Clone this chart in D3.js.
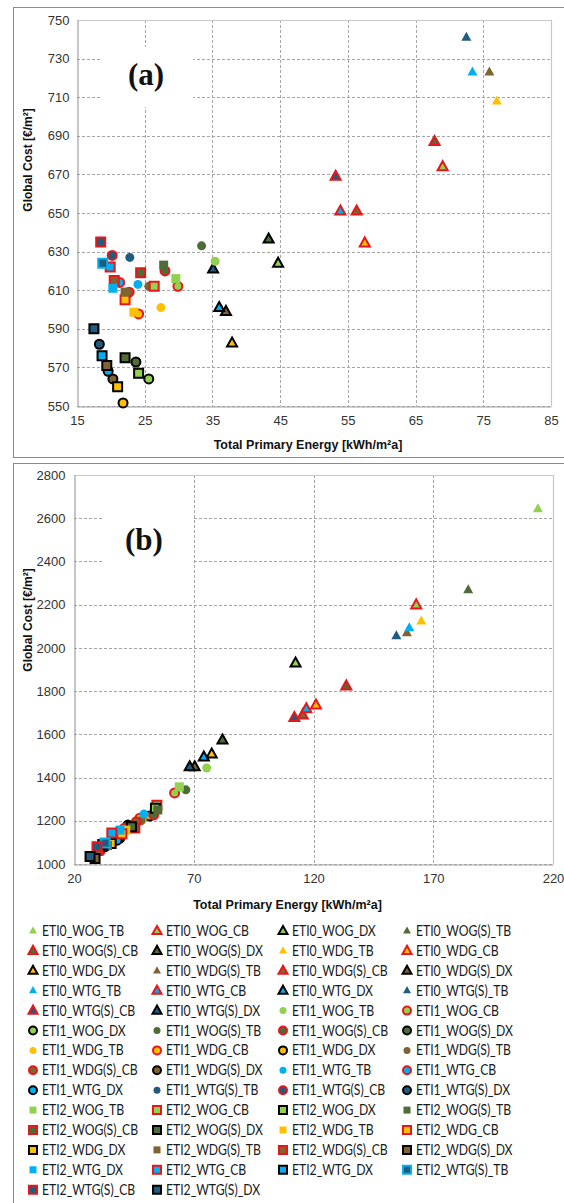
<!DOCTYPE html>
<html>
<head>
<meta charset="utf-8">
<script src="https://cdn.jsdelivr.net/npm/d3@7"></script>
<style>
  body { margin: 0; background: #fff; }
  svg { display: block; }
  .tick text { font-family: Arial, "Liberation Sans", sans-serif; font-size: 13px; fill: #333; }
</style>
</head>
<body>
<svg id="chart" width="564" height="1203"></svg>
<script>
// legend labels, in the order of the series (the original legend repeats ETI2_WTG_DX)
const labels = [
  "ETI0_WOG_TB", "ETI0_WOG_CB", "ETI0_WOG_DX", "ETI0_WOG(S)_TB", "ETI0_WOG(S)_CB", "ETI0_WOG(S)_DX",
  "ETI0_WDG_TB", "ETI0_WDG_CB", "ETI0_WDG_DX", "ETI0_WDG(S)_TB", "ETI0_WDG(S)_CB", "ETI0_WDG(S)_DX",
  "ETI0_WTG_TB", "ETI0_WTG_CB", "ETI0_WTG_DX", "ETI0_WTG(S)_TB", "ETI0_WTG(S)_CB", "ETI0_WTG(S)_DX",
  "ETI1_WOG_TB", "ETI1_WOG_CB", "ETI1_WOG_DX", "ETI1_WOG(S)_TB", "ETI1_WOG(S)_CB", "ETI1_WOG(S)_DX",
  "ETI1_WDG_TB", "ETI1_WDG_CB", "ETI1_WDG_DX", "ETI1_WDG(S)_TB", "ETI1_WDG(S)_CB", "ETI1_WDG(S)_DX",
  "ETI1_WTG_TB", "ETI1_WTG_CB", "ETI1_WTG_DX", "ETI1_WTG(S)_TB", "ETI1_WTG(S)_CB", "ETI1_WTG(S)_DX",
  "ETI2_WOG_TB", "ETI2_WOG_CB", "ETI2_WOG_DX", "ETI2_WOG(S)_TB", "ETI2_WOG(S)_CB", "ETI2_WOG(S)_DX",
  "ETI2_WDG_TB", "ETI2_WDG_CB", "ETI2_WDG_DX", "ETI2_WDG(S)_TB", "ETI2_WDG(S)_CB", "ETI2_WDG(S)_DX",
  "ETI2_WTG_DX", "ETI2_WTG_CB", "ETI2_WTG_DX", "ETI2_WTG(S)_TB", "ETI2_WTG(S)_CB", "ETI2_WTG(S)_DX"
];

// panel (a): total primary energy [kWh/m2a] and global cost [EUR/m2] (null = outside the plot)
const energyA = [
  null, 69.0, 44.7, null, 67.8, 43.3, 77.0, 57.5, 37.9, 75.9, 56.3, 37.0, 73.4, 53.9, 36.0, 72.5, 53.2, 35.1,
  35.4, 29.9, 25.6, 33.4, 28.0, 23.7, 27.4, 24.1, 21.8, 25.6, 22.7, 20.3, 24.0, 21.3, 19.6, 22.8, 20.2, 18.3,
  29.6, 26.4, 24.1, 27.8, 24.4, 22.1, 23.4, 22.1, 21.0, 22.1, 20.5, 19.4, 20.3, 19.9, 18.7, 18.8, 18.5, 17.5
];
const costA = [
  null, 674, 624, null, 687, 636.5, 708, 634.5, 582.6, 723, 651, 599, 723, 651, 601, 741, 669, 621,
  625, 612, 564, 633, 620, 572.8, 601, 597.7, 551.6, 612, 609, 564, 613, 614, 568, 627, 628, 582,
  616, 612, 567, 623, 619, 575, 598.6, 605, 560, 609, 615, 571, 611, 622, 576, 624, 635, 590
];

// panel (b)
const energyB = [
  213.7, 162.9, 112.5, 184.6, 133.7, 82.0, 165.0, 121.0, 77.5, 159.0, 115.5, 70.4, 160.0, 117.0, 74.2, 154.6, 112.0, 68.3,
  75.4, 62.0, 51.5, 66.7, 53.3, 42.5, 48.5, 47.5, 40.0, 48.0, 46.0, 39.2, 49.2, 41.0, 38.0, 36.0, 31.0, 33.0,
  64.0, 54.6, 54.0, 55.0, 45.4, 44.0, 41.6, 40.0, 35.5, 34.0, 30.0, 28.8, 39.2, 35.8, 32.0, 33.0, 29.6, 26.7
];
const costB = [
  2644, 2199, 1930, 2269, 1824, 1574, 2125, 1736, 1509, 2070, 1690, 1450, 2093, 1718, 1495, 2056, 1678, 1450,
  1444, 1329, 1222, 1343, 1227, 1180, 1205, 1212, 1150, 1200, 1195, 1120, 1231, 1165, 1110, 1100, 1062, 1080,
  1357, 1272, 1258, 1250, 1167, 1172, 1157, 1140, 1095, 1085, 1062, 1025, 1157, 1143, 1090, 1097, 1080, 1035
];

const ticksAx = [15, 25, 35, 45, 55, 65, 75, 85];
const ticksAy = [550, 570, 590, 610, 630, 650, 670, 690, 710, 730, 750];
const ticksBx = [20, 70, 120, 170, 220];
const ticksBy = [1000, 1200, 1400, 1600, 1800, 2000, 2200, 2400, 2600, 2800];

// generator fill colours: WOG, WOG(S), WDG, WDG(S), WTG, WTG(S)
const fills = ["#92d050", "#4f6b38", "#ffc000", "#7f6431", "#00b0f0", "#1f5c7f"];
const red = "#e8161b";

function style(i) {
  const eti = Math.floor(i / 18);
  const k = i % 18;
  const fill = fills[Math.floor(k / 3)];
  const term = k % 3; // 0 TB, 1 CB, 2 DX
  let stroke = term === 1 ? red : term === 2 ? "#000" : null;
  if (eti === 2 && k === 15) stroke = "#00b0f0";
  return {shape: eti, fill: fill, stroke: stroke};
}

function markerPath(shape, s) {
  if (shape === 0) {
    const h = s * 0.9;
    return `M0,${-h / 2 - 1}L${s / 2},${h / 2 - 1}L${-s / 2},${h / 2 - 1}Z`;
  } else if (shape === 1) {
    const r = s / 2;
    return `M${r},0A${r},${r} 0 1,1 ${-r},0A${r},${r} 0 1,1 ${r},0Z`;
  }
  const h = s / 2;
  return `M${-h},${-h}H${h}V${h}H${-h}Z`;
}

function drawMarker(g, i, x, y, legend) {
  const st = style(i);
  let size;
  if (st.stroke) size = st.shape === 0 ? (legend ? 9 : 10) : (legend ? 8 : 9);
  else size = st.shape === 0 ? (legend ? 8 : 10) : (legend ? 7 : 9);
  g.append("path")
    .attr("transform", `translate(${x},${y})`)
    .attr("d", markerPath(st.shape, size))
    .attr("fill", st.fill)
    .attr("stroke", st.stroke || "none")
    .attr("stroke-width", st.stroke ? 2 : 0)
    .attr("stroke-linejoin", "miter");
}

const svg = d3.select("#chart");

// outer frames
svg.append("rect").attr("x", 13.5).attr("y", 7.5).attr("width", 600).attr("height", 450)
  .attr("fill", "none").attr("stroke", "#8c8c8c");
svg.append("rect").attr("x", 13.5).attr("y", 463.5).attr("width", 600).attr("height", 760)
  .attr("fill", "none").attr("stroke", "#8c8c8c");

function panel(cfg) {
  const x = d3.scaleLinear().domain(d3.extent(cfg.xt)).range([cfg.left, cfg.right]);
  const y = d3.scaleLinear().domain(d3.extent(cfg.yt)).range([cfg.bottom, cfg.top]);
  const g = svg.append("g");

  // gridlines
  g.append("g").selectAll("line").data(cfg.xt.slice(1, -1)).join("line")
    .attr("x1", d => Math.round(x(d)) + 0.5).attr("x2", d => Math.round(x(d)) + 0.5)
    .attr("y1", cfg.top).attr("y2", cfg.bottom)
    .attr("stroke", "#a6a6a6").attr("stroke-dasharray", "3,2");
  g.append("g").selectAll("line").data(cfg.yt.slice(0, -1)).join("line")
    .attr("y1", d => Math.round(y(d)) + 0.5).attr("y2", d => Math.round(y(d)) + 0.5)
    .attr("x1", cfg.left).attr("x2", cfg.right)
    .attr("stroke", "#a6a6a6").attr("stroke-dasharray", "3,2");

  // plot area frame (top + right)
  g.append("path")
    .attr("d", `M${cfg.left},${cfg.top + 0.5}H${cfg.right + 0.5}V${cfg.bottom}`)
    .attr("fill", "none").attr("stroke", "#c8c8c8").attr("stroke-width", 1.2);

  // axes
  const ax = g.append("g").attr("transform", `translate(0,${cfg.bottom + 0.5})`)
    .call(d3.axisBottom(x).tickValues(cfg.xt).tickSize(0).tickPadding(9).tickFormat(d3.format("d")));
  const ay = g.append("g").attr("transform", `translate(${cfg.left + 0.5},0)`)
    .call(d3.axisLeft(y).tickValues(cfg.yt).tickSize(0).tickPadding(cfg.ypad).tickFormat(d3.format("d")));
  [ax, ay].forEach(a => a.select(".domain").attr("stroke", "#a0a0a0").attr("stroke-width", 1.2));

  // panel label on a white box
  g.append("rect").attr("x", cfg.boxX).attr("y", cfg.boxY).attr("width", 91).attr("height", cfg.boxH).attr("fill", "#fff");
  g.append("text").attr("x", cfg.labelX).attr("y", cfg.labelY)
    .attr("text-anchor", "middle")
    .attr("font-family", "'Liberation Serif', 'DejaVu Serif', serif")
    .attr("font-weight", "bold").attr("font-size", 31)
    .attr("fill", "#111").text(cfg.label);

  // titles
  g.append("text").attr("x", (cfg.left + cfg.right) / 2 + cfg.titleDx).attr("y", cfg.xTitleY)
    .attr("text-anchor", "middle")
    .attr("font-family", "Arial, 'Liberation Sans', sans-serif").attr("font-weight", "bold")
    .attr("font-size", 12.5).attr("fill", "#111")
    .text("Total Primary Energy [kWh/m²a]");
  g.append("text").attr("transform", `translate(${cfg.yTitleX},${cfg.yTitleY}) rotate(-90)`)
    .attr("text-anchor", "middle")
    .attr("font-family", "Arial, 'Liberation Sans', sans-serif").attr("font-weight", "bold")
    .attr("font-size", 12).attr("fill", "#111")
    .text("Global Cost [€/m²]");

  // points, later series on top
  const pts = g.append("g");
  cfg.xs.forEach((v, i) => {
    if (v == null || cfg.ys[i] == null) return;
    drawMarker(pts, i, x(v), y(cfg.ys[i]), false);
  });
}

panel({
  xs: energyA, ys: costA, xt: ticksAx, yt: ticksAy,
  left: 77, right: 551, top: 20, bottom: 406, ypad: 8,
  label: "(a)", labelX: 146, labelY: 85, boxX: 102, boxY: 47, boxH: 60,
  xTitleY: 449, titleDx: -6, yTitleX: 32, yTitleY: 160
});

panel({
  xs: energyB, ys: costB, xt: ticksBx, yt: ticksBy,
  left: 74, right: 553, top: 475, bottom: 864, ypad: 9,
  label: "(b)", labelX: 144, labelY: 550, boxX: 103, boxY: 505, boxH: 65,
  xTitleY: 909, titleDx: -26, yTitleX: 32, yTitleY: 620
});

// legend
const colX = [33, 157, 283, 407];
const legend = svg.append("g");
const texts = [];
labels.forEach((name, i) => {
  const cx = colX[i % 4];
  const cy = 931 + Math.floor(i / 4) * 19.9;
  drawMarker(legend, i, cx, cy, true);
  texts.push(legend.append("text").datum([cx + 9, cy + 5])
    .attr("font-family", "Lato, 'Open Sans', sans-serif").attr("font-size", 14.5)
    .attr("fill", "#1a1a1a").text(name));
});
// squeeze the labels horizontally to the narrow (Calibri-like) width of the original
const widest = d3.max(texts, t => t.node().getComputedTextLength());
const sx = Math.min(1, 97 / widest);
texts.forEach(t => t.attr("transform", d => `translate(${d[0]},${d[1]}) scale(${sx},1)`));
</script>
</body>
</html>
